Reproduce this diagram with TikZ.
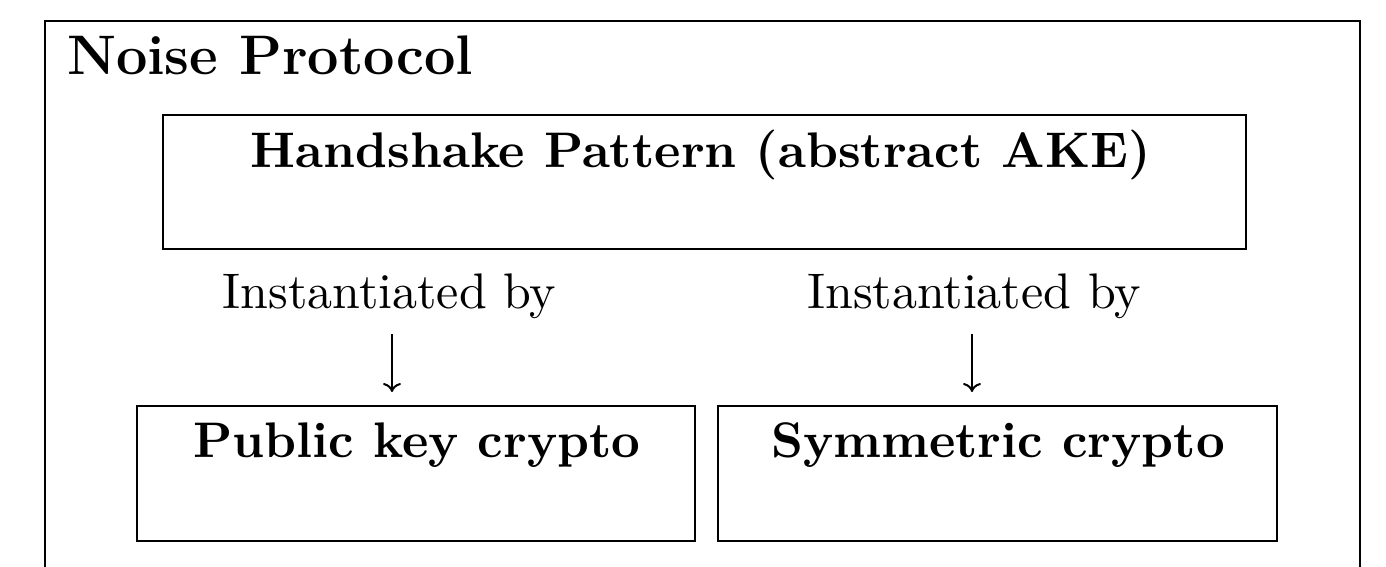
\documentclass[tikz,border=0pt]{standalone}
\usetikzlibrary{arrows.meta}
\begin{document}
\begin{tikzpicture}[x=0.2pt,y=-0.2pt,
  box/.style={draw, line width=0.4pt, rectangle, inner sep=0pt},
  lbl/.style={inner sep=0pt, anchor=base, font=\bfseries},
  note/.style={inner sep=0pt, anchor=base},
  arr/.style={-{Computer Modern Rightarrow[width=3.6pt,length=1.8pt]}, line width=0.4pt}]
\useasboundingbox (0,0) rectangle (1386,566);
\clip (0,0) rectangle (1386,566);
% outer frame; its lower edge lies below the page
\node[box, minimum width=263pt, minimum height=135.8pt] (frame) at (702.5,360.5) {};
\node[note, anchor=base west, font=\fontsize{11.15pt}{14pt}\selectfont\bfseries] (title) at (66,74) {Noise Protocol};
% handshake pattern
\node[box, minimum width=216.6pt, minimum height=26.8pt] (hs) at (704.5,182) {};
\node[lbl] (hsl) at (700.5,167) {Handshake Pattern (abstract AKE)};
% the two instantiations
\node[box, minimum width=111.6pt, minimum height=27pt] (pub) at (416,473.5) {};
\node[lbl] (publ) at (417,457) {Public key crypto};
\node[box, minimum width=111.8pt, minimum height=27pt] (sym) at (997.5,473.5) {};
\node[lbl] (syml) at (998,457) {Symmetric crypto};
\node[note] (in1) at (389.5,308) {Instantiated by};
\node[note] (in2) at (974,308) {Instantiated by};
\draw[arr, shorten <=3pt, shorten >=2.6pt] ([xshift=0.5pt]in1.south) -- ([xshift=0.5pt]in1.south |- pub.north);
\draw[arr, shorten <=3pt, shorten >=2.6pt] ([xshift=-0.4pt]in2.south) -- ([xshift=-0.4pt]in2.south |- sym.north);
\end{tikzpicture}
\end{document}
